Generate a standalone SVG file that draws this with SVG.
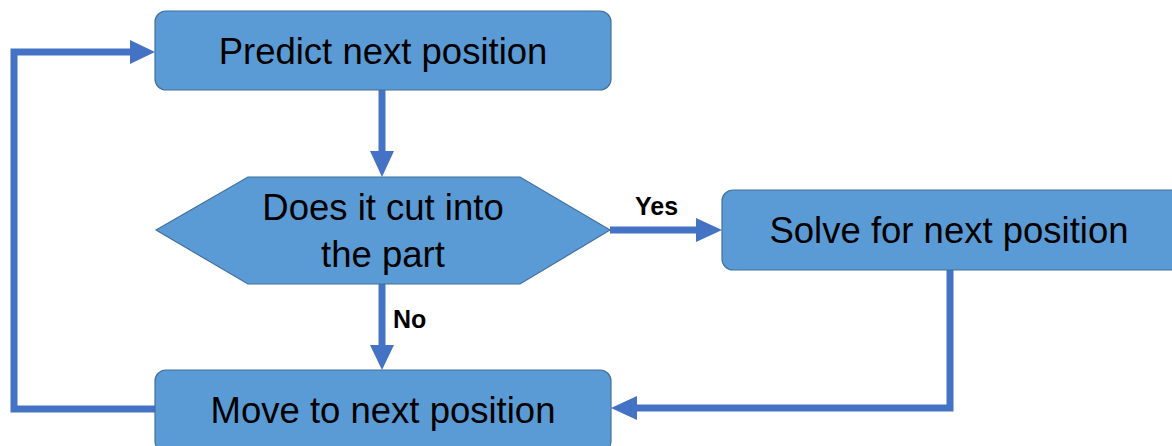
<svg xmlns="http://www.w3.org/2000/svg" width="1172" height="446" viewBox="0 0 1172 446">
<style>
.box{fill:#5B9BD5;stroke:#41719C;stroke-width:1.2}
.t{font-family:"Liberation Sans",Arial,sans-serif;font-size:36.5px;fill:#000;text-anchor:middle}
.lbl{font-family:"Liberation Sans",Arial,sans-serif;font-size:25px;font-weight:bold;fill:#000}
.c{fill:none;stroke:#4472C4;stroke-width:7;stroke-linejoin:miter}
.ah{fill:#4472C4}
</style>
<rect width="1172" height="446" fill="#fff"/>
<g id="connectors">
<path class="c" d="M382 90 V152"/>
<polygon class="ah" points="370,151 394,151 382,177"/>
<path class="c" d="M610 230 H697"/>
<polygon class="ah" points="696,218 696,242 722,230"/>
<path class="c" d="M382 284 V346"/>
<polygon class="ah" points="370,345 394,345 382,370"/>
<path class="c" d="M155 409 H14 V52 H131"/>
<polygon class="ah" points="130,40 130,64 155,52"/>
<path class="c" d="M950 270 V408 H636"/>
<polygon class="ah" points="637,396 637,420 611,408"/>
<text class="lbl" x="635" y="215">Yes</text>
<text class="lbl" x="393" y="328">No</text>
</g>
<g id="predict">
<rect class="box" x="155" y="11" width="456" height="79" rx="11"/>
<text class="t" x="383" y="64">Predict next position</text>
</g>
<g id="decision">
<polygon class="box" points="156,230 248,177 520,177 610,230 520,284 248,284"/>
<text class="t" x="383" y="220">Does it cut into</text>
<text class="t" x="383" y="267">the part</text>
</g>
<g id="solve">
<rect class="box" x="722" y="190" width="462" height="80" rx="11"/>
<text class="t" x="949" y="243">Solve for next position</text>
</g>
<g id="move">
<rect class="box" x="155" y="370" width="456" height="82" rx="11"/>
<text class="t" x="383" y="423">Move to next position</text>
</g>
</svg>
